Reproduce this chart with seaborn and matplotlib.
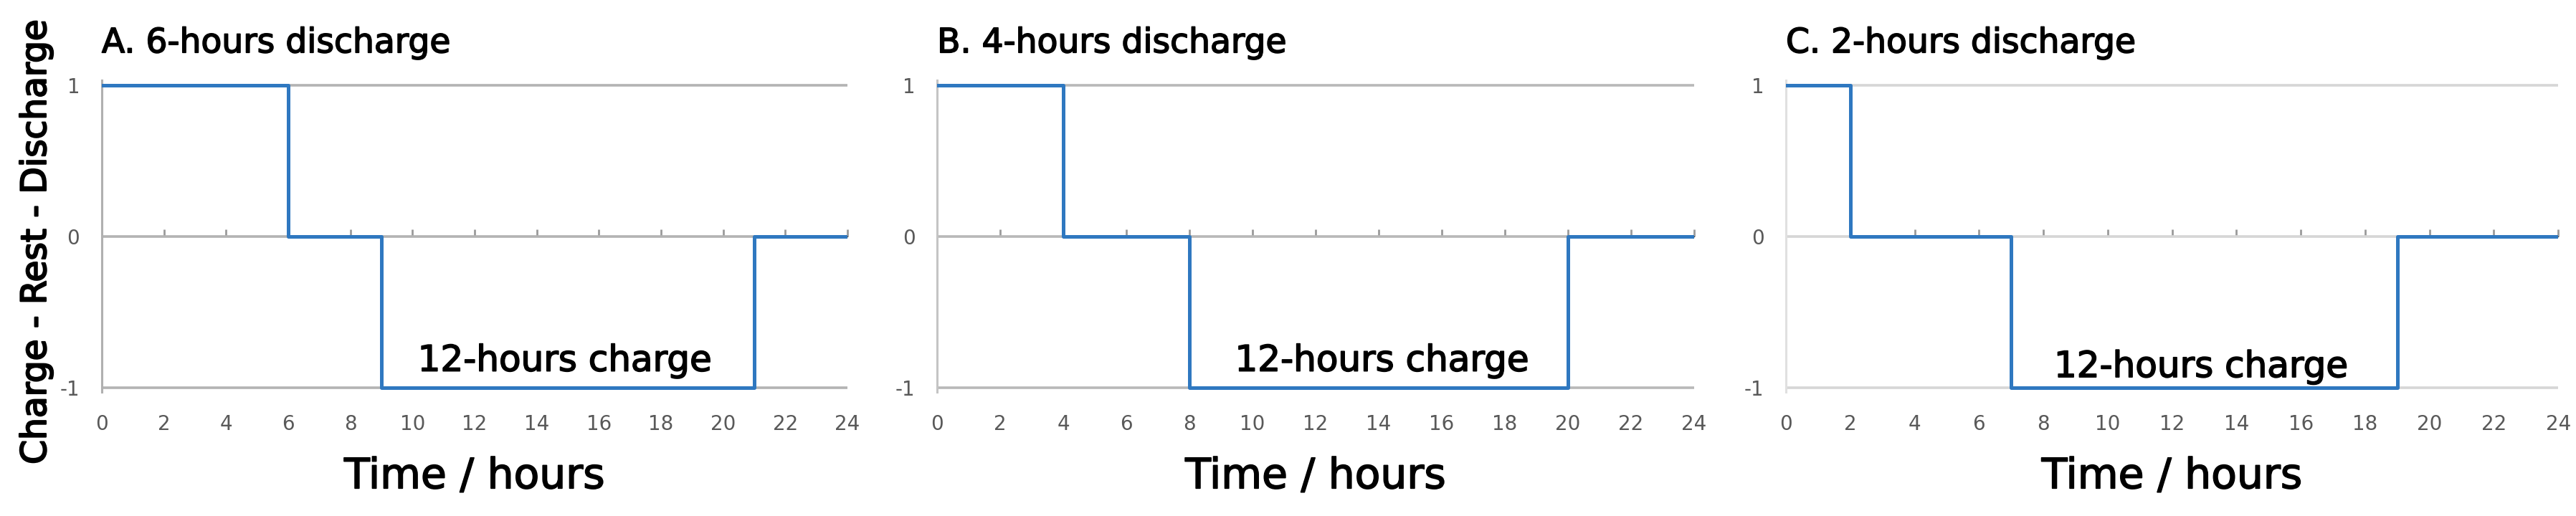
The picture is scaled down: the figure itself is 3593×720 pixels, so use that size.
import numpy as np
import pandas as pd
import matplotlib
matplotlib.use("Agg")
import matplotlib.pyplot as plt
import matplotlib.patheffects as pe
import seaborn as sns

# --- data ---
hours_a = [0, 6, 9, 21, 24]
state_a = [1, 0, -1, 0, 0]
hours_b = [0, 4, 8, 20, 24]
state_b = [1, 0, -1, 0, 0]
hours_c = [0, 2, 7, 19, 24]
state_c = [1, 0, -1, 0, 0]

titles = ["A. 6-hours discharge", "B. 4-hours discharge", "C. 2-hours discharge"]
charge_label = "12-hours charge"
charge_x = [14.9, 14.1, 12.9]
charge_y = [-0.89, -0.89, -0.93]
xticks = list(range(0, 25, 2))
yticks = [-1, 0, 1]

sns.set_style("white")
plt.rcParams["font.family"] = ["DejaVu Sans"]

LINE = "#2f78c0"
TICK = "#595959"
grid_cols = ["#b3b3b3", "#b8b8b8", "#d6d6d6"]
spine_cols = ["#b0b0b0", "#c4c4c4", "#e0e0e0"]
heavy = [pe.withStroke(linewidth=1.2, foreground="black")]

fig = plt.figure(figsize=(35.93, 7.2), dpi=100)
boxes = [
    [0.0395, 0.240, 0.2895, 0.6042],
    [0.3638, 0.240, 0.2939, 0.6042],
    [0.6933, 0.240, 0.2998, 0.6042],
]
series = [(hours_a, state_a), (hours_b, state_b), (hours_c, state_c)]

for i, (box, (hrs, st)) in enumerate(zip(boxes, series)):
    ax = fig.add_axes(box)
    df = pd.DataFrame({"hours": hrs, "state": st})
    sns.lineplot(data=df, x="hours", y="state", ax=ax, estimator=None,
                 drawstyle="steps-post", color=LINE, lw=3.6, zorder=5)

    ax.set_xlim(0, 24)
    ax.set_ylim(-1.03, 1.03)
    ax.set_xticks(xticks)
    ax.set_yticks(yticks)
    ax.set_yticklabels(["-1", "0", "1"])
    ax.grid(axis="y", color=grid_cols[i], lw=2.6)
    ax.grid(axis="x", visible=False)
    for s in ["top", "right", "bottom"]:
        ax.spines[s].set_visible(False)
    ax.spines["left"].set_color(spine_cols[i])
    ax.spines["left"].set_linewidth(2.2)
    ax.tick_params(axis="x", length=0, pad=22, labelsize=20, labelcolor=TICK)
    ax.tick_params(axis="y", length=0, pad=22, labelsize=20, labelcolor=TICK)

    # tick marks on the zero line
    sec = ax.secondary_xaxis(0.5)
    sec.set_xticks(xticks)
    sec.set_xticklabels([])
    sec.tick_params(axis="x", length=7, width=2, color="#9a9a9a", direction="out")
    sec.spines["bottom"].set_visible(False)

    t = ax.set_title(titles[i], loc="left", fontsize=34, pad=28, color="black")
    t.set_path_effects(heavy)
    ax.set_xlabel("Time / hours", fontsize=42, labelpad=22, color="black")
    ax.xaxis.label.set_path_effects(heavy)
    ax.set_ylabel("")
    ax.text(charge_x[i], charge_y[i], charge_label, fontsize=36,
            ha="center", va="baseline", color="black", zorder=6,
            path_effects=heavy)

fig.text(0.0139, 0.531, "Charge - Rest - Discharge", rotation=90, fontsize=35,
         ha="center", va="center", color="black",
         family=["Liberation Sans Narrow", "DejaVu Sans"],
         path_effects=[pe.withStroke(linewidth=1.6, foreground="black")])

fig.savefig("out.png", dpi=100, facecolor="white")
